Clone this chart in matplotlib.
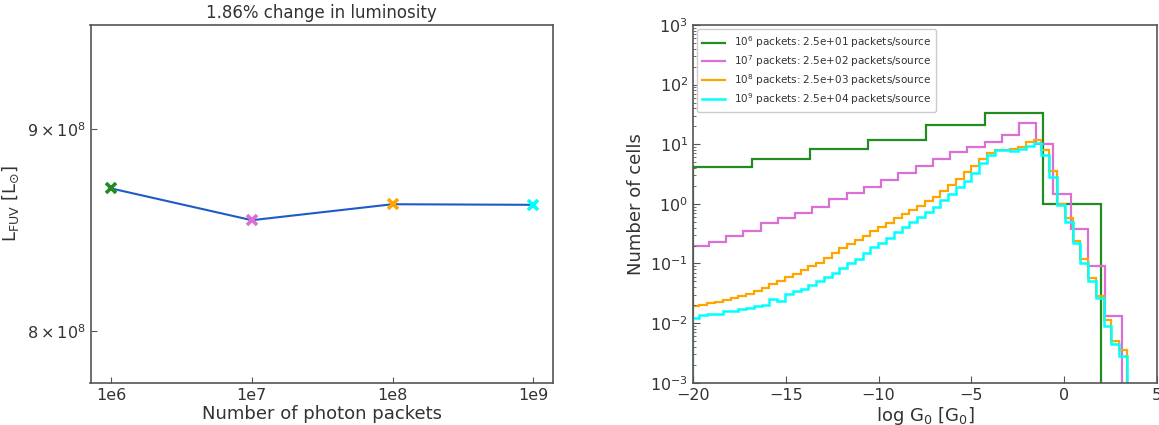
import numpy as np
import matplotlib
matplotlib.use("Agg")
import matplotlib.pyplot as plt

plt.rcParams['font.family'] = ['DejaVu Sans']
plt.rcParams['mathtext.default'] = 'regular'

# ---------------- Left panel data ----------------
n_packets = [1e6, 1e7, 1e8, 1e9]
lum_fuv = [8.695e8, 8.535e8, 8.615e8, 8.612e8]
marker_colors = ['forestgreen', 'orchid', 'orange', 'cyan']
x_tick_vals = [1e6, 1e7, 1e8, 1e9]
x_tick_labels = ['1e6', '1e7', '1e8', '1e9']
y_tick_vals = [8e8, 9e8]
y_tick_labels = [r'$8\times10^{8}$', r'$9\times10^{8}$']
title_text = '1.86% change in luminosity'

# ---------------- Right panel data ----------------
legend_labels = [r'$10^{6}$ packets: 2.5e+01 packets/source',
                 r'$10^{7}$ packets: 2.5e+02 packets/source',
                 r'$10^{8}$ packets: 2.5e+03 packets/source',
                 r'$10^{9}$ packets: 2.5e+04 packets/source']
hist_colors = ['forestgreen', 'orchid', 'orange', 'cyan']

# 1e6 packets: 7 wide bins
edges_1e6 = np.linspace(-19.98, 2.00, 8)
counts_1e6 = [4.1, 5.7, 8.2, 12.0, 21.0, 33.0, 1.0]

# 1e7 packets: 25 bins
edges_1e7 = np.linspace(-20.07, 3.13, 26)
counts_1e7 = [0.194, 0.229, 0.286, 0.352, 0.47, 0.571, 0.713, 0.90, 1.19, 1.51,
              1.91, 2.51, 3.31, 4.27, 5.75, 7.41, 9.12, 10.7, 14.3, 22.4,
              10.2, 1.46, 0.376, 0.089, 0.013]

# 1e8 and 1e9 packets: 56 bins (values read as log10 of number of cells)
edges_fine = np.linspace(-20.07, 3.38, 57)
log_counts_1e8 = [-1.72, -1.70, -1.67, -1.64, -1.61, -1.58, -1.55, -1.52, -1.47, -1.41,
                  -1.35, -1.29, -1.23, -1.17, -1.11, -1.05, -0.99, -0.91, -0.82, -0.74,
                  -0.67, -0.60, -0.54, -0.46, -0.39, -0.32, -0.24, -0.17, -0.10, -0.03,
                  0.05, 0.12, 0.21, 0.31, 0.42, 0.53, 0.64, 0.76, 0.86, 0.90,
                  0.91, 0.92, 0.96, 1.04, 1.07, 0.90, 0.55, 0.00, -0.24, -0.62,
                  -0.92, -1.25, -1.55, -1.95, -2.30, -2.45]
log_counts_1e9 = [-1.92, -1.86, -1.85, -1.85, -1.79, -1.79, -1.77, -1.74, -1.72, -1.70,
                  -1.60, -1.63, -1.52, -1.47, -1.42, -1.36, -1.30, -1.23, -1.16, -1.08,
                  -1.00, -0.92, -0.82, -0.73, -0.65, -0.57, -0.48, -0.39, -0.31, -0.22,
                  -0.14, -0.05, 0.07, 0.17, 0.28, 0.39, 0.52, 0.68, 0.82, 0.90,
                  0.91, 0.89, 0.92, 0.97, 1.02, 0.82, 0.45, -0.02, -0.30, -0.65,
                  -1.00, -1.30, -1.58, -2.05, -2.35, -2.55]

text_color = '#333333'
spine_color = '#555555'
plt.rcParams['text.color'] = text_color
plt.rcParams['axes.labelcolor'] = text_color
plt.rcParams['xtick.color'] = spine_color
plt.rcParams['ytick.color'] = spine_color
plt.rcParams['xtick.labelcolor'] = text_color
plt.rcParams['ytick.labelcolor'] = text_color

fig = plt.figure(figsize=(11.59, 4.25), dpi=100)
W, H = 1159, 425
def rect(x0, y0, x1, y1):
    return [x0 / W, 1 - y1 / H, (x1 - x0) / W, (y1 - y0) / H]

ax1 = fig.add_axes(rect(90.5, 25, 553, 382.7))
ax2 = fig.add_axes(rect(693, 25, 1157, 382.7))

for ax in (ax1, ax2):
    for s in ax.spines.values():
        s.set_color(spine_color)
        s.set_linewidth(1.2)
    ax.tick_params(direction='in', which='both', labelsize=11.5)

# ---- Left ----
ax1.plot(n_packets, lum_fuv, color='#1f5bc6', lw=1.5, zorder=2)
for xv, yv, c in zip(n_packets, lum_fuv, marker_colors):
    ax1.plot([xv], [yv], marker='x', color=c, ms=7.5, mew=2.6, ls='none', zorder=3)
ax1.set_xscale('log')
ax1.set_yscale('log')
ax1.set_xlim(10**5.854, 10**9.14)
ax1.set_ylim(7.762e8, 9.566e8)
ax1.set_xticks(x_tick_vals, labels=x_tick_labels)
ax1.xaxis.set_minor_locator(matplotlib.ticker.NullLocator())
ax1.set_yticks(y_tick_vals, labels=y_tick_labels)
ax1.yaxis.set_minor_locator(matplotlib.ticker.NullLocator())
ax1.tick_params(axis='both', length=4)
ax1.set_xlabel('Number of photon packets', fontsize=13, labelpad=2)
ax1.set_ylabel(r'L$_{FUV}$ [L$_{\odot}$]', fontsize=13)
ax1.set_title(title_text, fontsize=12, pad=5)

# ---- Right ----
ax2.set_yscale('log')
ax2.stairs(counts_1e6, edges_1e6, color=hist_colors[0], lw=1.6, baseline=1e-6, label=legend_labels[0])
ax2.stairs(counts_1e7, edges_1e7, color=hist_colors[1], lw=1.6, baseline=1e-6, label=legend_labels[1])
ax2.stairs(10 ** np.array(log_counts_1e8), edges_fine, color=hist_colors[2], lw=1.6, baseline=1e-6, label=legend_labels[2])
ax2.stairs(10 ** np.array(log_counts_1e9), edges_fine, color=hist_colors[3], lw=1.8, baseline=1e-6, label=legend_labels[3])
ax2.set_xlim(-20, 5)
ax2.set_ylim(1e-3, 1e3)
ax2.set_xticks([-20, -15, -10, -5, 0, 5])
ax2.tick_params(axis='both', which='major', length=5)
ax2.tick_params(axis='both', which='minor', length=2.5)
ax2.set_xlabel(r'log G$_0$ [G$_0$]', fontsize=13, labelpad=2)
ax2.set_ylabel('Number of cells', fontsize=13)
leg = ax2.legend(loc='upper left', fontsize=7.5, handlelength=2.2, labelspacing=0.3,
                 borderaxespad=0.4, borderpad=0.5, fancybox=True, framealpha=1)
leg.get_frame().set_edgecolor('#cccccc')
for t in leg.get_texts():
    t.set_color(text_color)

fig.savefig('out.png', dpi=100)
